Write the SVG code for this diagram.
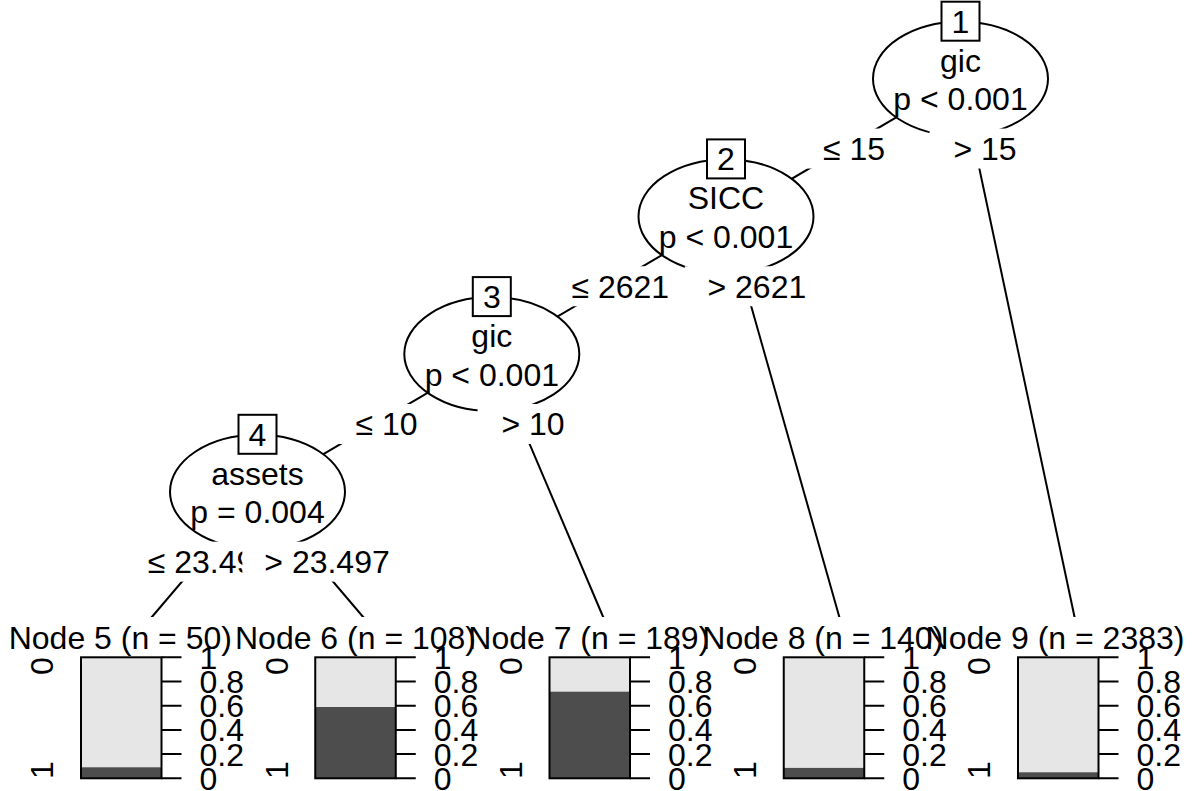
<svg xmlns="http://www.w3.org/2000/svg" width="1195" height="791" viewBox="0 0 1195 791">
<style>
text{font-family:"Liberation Sans",Arial,sans-serif;font-size:32px;fill:#000}
.m{text-anchor:middle}
.e{text-anchor:end}
.ell{fill:#fff;stroke:#000;stroke-width:2}
.box{fill:#fff;stroke:#000;stroke-width:2}
.edge{stroke:#000;stroke-width:2;fill:none}
.lbg{fill:#fff;stroke:none}
.tbg{fill:#fff;stroke:none}
.lt{fill:#e6e6e6}
.dk{fill:#4d4d4d}
.out{fill:none;stroke:#000;stroke-width:2}
.tk{stroke:#000;stroke-width:2}
</style>
<defs>
<g id="axis">
<path class="tk" d="M0,0H20M0,24.2H20M0,48.4H20M0,72.6H20M0,96.8H20M0,121H20"/>
<text x="38" y="11.5">1</text>
<text x="38" y="35.7">0.8</text>
<text x="38" y="59.9">0.6</text>
<text x="38" y="84.1">0.4</text>
<text x="38" y="108.3">0.2</text>
<text x="38" y="132.5">0</text>
</g>
</defs>
<g id="connectors">
<line class="edge" x1="960.5" y1="79.7" x2="726" y2="217.4"/>
<line class="edge" x1="960.5" y1="79.7" x2="1077.4" y2="630.5"/>
<line class="edge" x1="726" y1="217.4" x2="491.8" y2="355.1"/>
<line class="edge" x1="726" y1="217.4" x2="843.15" y2="630.5"/>
<line class="edge" x1="491.8" y1="355.1" x2="257.5" y2="492.8"/>
<line class="edge" x1="491.8" y1="355.1" x2="608.9" y2="630.5"/>
<line class="edge" x1="257.5" y1="492.8" x2="140.4" y2="630.5"/>
<line class="edge" x1="257.5" y1="492.8" x2="374.65" y2="630.5"/>
</g>
<g id="node1">
<ellipse class="ell" cx="960.5" cy="78.7" rx="87.5" ry="57"/>
<rect class="box" x="941.5" y="1.7" width="38" height="39"/>
<text class="m" x="960.5" y="32.7">1</text>
<text class="m" x="960.5" y="71.7">gic</text>
<text class="m" x="960.5" y="110.2">p &lt; 0.001</text>
</g>
<g id="node2">
<ellipse class="ell" cx="726" cy="216.4" rx="87.5" ry="57"/>
<rect class="box" x="707" y="139.4" width="38" height="39"/>
<text class="m" x="726" y="170.4">2</text>
<text class="m" x="726" y="209.4">SICC</text>
<text class="m" x="726" y="247.9">p &lt; 0.001</text>
</g>
<g id="node3">
<ellipse class="ell" cx="491.8" cy="354.1" rx="87.5" ry="57"/>
<rect class="box" x="472.8" y="277.1" width="38" height="39"/>
<text class="m" x="491.8" y="308.1">3</text>
<text class="m" x="491.8" y="347.1">gic</text>
<text class="m" x="491.8" y="385.6">p &lt; 0.001</text>
</g>
<g id="node4">
<ellipse class="ell" cx="257.5" cy="491.8" rx="87.5" ry="57"/>
<rect class="box" x="238.5" y="414.8" width="38" height="39"/>
<text class="m" x="257.5" y="445.8">4</text>
<text class="m" x="257.5" y="484.8">assets</text>
<text class="m" x="257.5" y="523.3">p = 0.004</text>
</g>
<g id="edge-labels">
<rect class="lbg" x="799" y="128.55" width="86" height="40"/>
<text class="e" x="885" y="160.05">≤ 15</text>
<rect class="lbg" x="548.7" y="266.25" width="120.4" height="40"/>
<text class="e" x="669.1" y="297.75">≤ 2621</text>
<rect class="lbg" x="331.65" y="403.95" width="86" height="40"/>
<text class="e" x="417.65" y="435.45">≤ 10</text>
<rect class="lbg" x="125.8" y="541.65" width="146.3" height="40"/>
<text class="e" x="272.1" y="573.15">≤ 23.497</text>
<rect class="lbg" x="242.35" y="541.65" width="147.4" height="40"/>
<text class="e" x="389.75" y="573.15">&gt; 23.497</text>
<rect class="lbg" x="477.6" y="403.95" width="87" height="40"/>
<text class="e" x="564.6" y="435.45">&gt; 10</text>
<rect class="lbg" x="684.75" y="266.25" width="121.5" height="40"/>
<text class="e" x="806.25" y="297.75">&gt; 2621</text>
<rect class="lbg" x="929.6" y="128.55" width="87" height="40"/>
<text class="e" x="1016.6" y="160.05">&gt; 15</text>
</g>
<g id="node5">
<rect class="tbg" x="23.3" y="617" width="234.2" height="174"/>
<text class="m" x="120.3" y="648.5">Node 5 (n = 50)</text>
<rect class="lt" x="81" y="657.3" width="80.5" height="121"/>
<rect class="dk" x="81" y="767.3" width="80.5" height="11"/>
<rect class="out" x="81" y="657.3" width="80.5" height="121"/>
<use href="#axis" x="161.5" y="657.3"/>
<text class="m" transform="translate(53.3,666) rotate(-90)">0</text>
<text class="m" transform="translate(53.3,770) rotate(-90)">1</text>
</g>
<g id="node6">
<rect class="tbg" x="257.5" y="617" width="234.3" height="174"/>
<text class="m" x="355.5" y="648.5">Node 6 (n = 108)</text>
<rect class="lt" x="315.25" y="657.3" width="80.5" height="121"/>
<rect class="dk" x="315.25" y="707" width="80.5" height="71.3"/>
<rect class="out" x="315.25" y="657.3" width="80.5" height="121"/>
<use href="#axis" x="395.75" y="657.3"/>
<text class="m" transform="translate(287.55,666) rotate(-90)">0</text>
<text class="m" transform="translate(287.55,770) rotate(-90)">1</text>
</g>
<g id="node7">
<rect class="tbg" x="491.8" y="617" width="234.2" height="174"/>
<text class="m" x="588.8" y="648.5">Node 7 (n = 189)</text>
<rect class="lt" x="549.5" y="657.3" width="80.5" height="121"/>
<rect class="dk" x="549.5" y="691.7" width="80.5" height="86.6"/>
<rect class="out" x="549.5" y="657.3" width="80.5" height="121"/>
<use href="#axis" x="630" y="657.3"/>
<text class="m" transform="translate(521.8,666) rotate(-90)">0</text>
<text class="m" transform="translate(521.8,770) rotate(-90)">1</text>
</g>
<g id="node8">
<rect class="tbg" x="726" y="617" width="234.3" height="174"/>
<text class="m" x="822.8" y="648.5">Node 8 (n = 140)</text>
<rect class="lt" x="783.75" y="657.3" width="80.5" height="121"/>
<rect class="dk" x="783.75" y="767.9" width="80.5" height="10.4"/>
<rect class="out" x="783.75" y="657.3" width="80.5" height="121"/>
<use href="#axis" x="864.25" y="657.3"/>
<text class="m" transform="translate(756.05,666) rotate(-90)">0</text>
<text class="m" transform="translate(756.05,770) rotate(-90)">1</text>
</g>
<g id="node9">
<rect class="tbg" x="960.3" y="617" width="234.7" height="174"/>
<text class="m" x="1055" y="648.5">Node 9 (n = 2383)</text>
<rect class="lt" x="1018" y="657.3" width="80.5" height="121"/>
<rect class="dk" x="1018" y="772.3" width="80.5" height="6"/>
<rect class="out" x="1018" y="657.3" width="80.5" height="121"/>
<use href="#axis" x="1098.5" y="657.3"/>
<text class="m" transform="translate(990.3,666) rotate(-90)">0</text>
<text class="m" transform="translate(990.3,770) rotate(-90)">1</text>
</g>
</svg>
